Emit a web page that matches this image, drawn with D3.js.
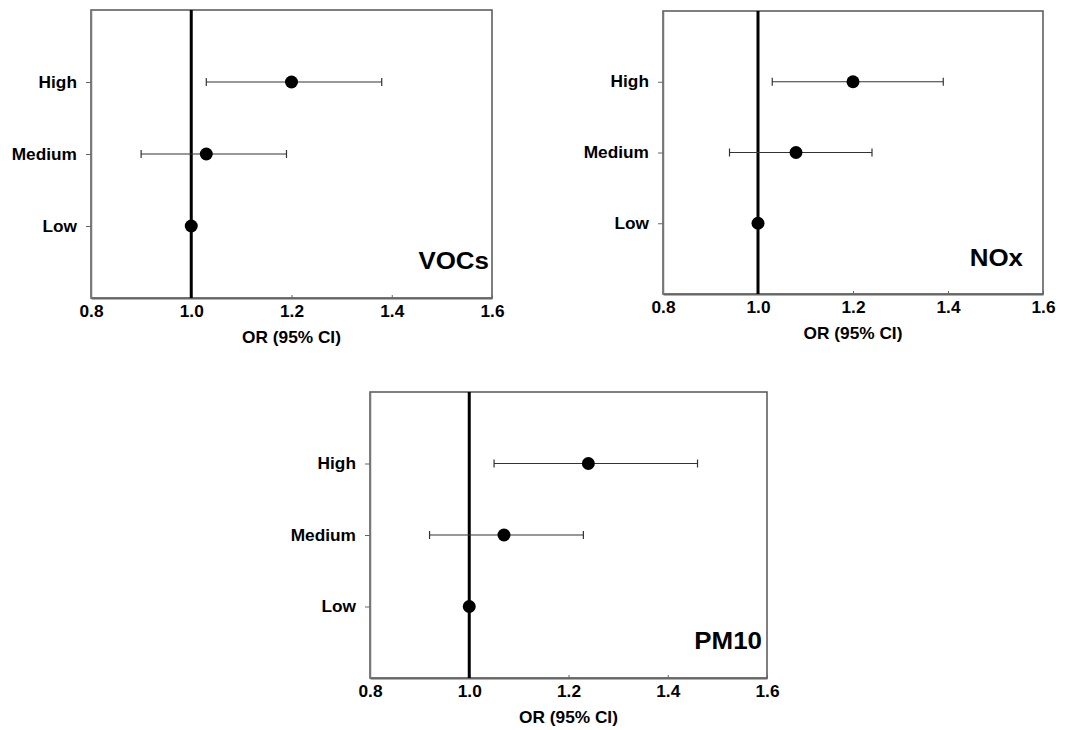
<!DOCTYPE html>
<html>
<head>
<meta charset="utf-8">
<script src="https://cdn.jsdelivr.net/npm/d3@7"></script>
<style>
  body { margin: 0; background: #fff; }
  svg { display: block; }
  text { font-family: "Liberation Sans", Arial, sans-serif; font-weight: bold; fill: #000; }
</style>
</head>
<body>
<svg width="1083" height="730"></svg>
<script>
// Data
var categories = ["Low", "Medium", "High"];
var xTicks = [0.8, 1.0, 1.2, 1.4, 1.6];
var pollutants = ["VOCs", "NOx", "PM10"];

var vocsOR = [1.0, 1.03, 1.2];
var vocsLower = [null, 0.9, 1.03];
var vocsUpper = [null, 1.19, 1.38];

var noxOR = [1.0, 1.08, 1.2];
var noxLower = [null, 0.94, 1.03];
var noxUpper = [null, 1.24, 1.39];

var pm10OR = [1.0, 1.07, 1.24];
var pm10Lower = [null, 0.92, 1.05];
var pm10Upper = [null, 1.23, 1.46];

var seriesOR = [vocsOR, noxOR, pm10OR];
var seriesLower = [vocsLower, noxLower, pm10Lower];
var seriesUpper = [vocsUpper, noxUpper, pm10Upper];

// Where each panel sits on the page
var panelBoxes = [
  { left: 91, right: 492, top: 10, bottom: 298, labelDx: 3, labelDy: 29 },
  { left: 663, right: 1043, top: 11, bottom: 294, labelDx: 20, labelDy: 28 },
  { left: 370, right: 767, top: 392, bottom: 678, labelDx: 5, labelDy: 29 }
];

var stretch = "scale(1.08,1)"; // the original text is a little wide

var svg = d3.select("svg");

pollutants.forEach(function (name, p) {
  var box = panelBoxes[p];
  var w = box.right - box.left;
  var h = box.bottom - box.top;

  var g = svg.append("g")
    .attr("transform", `translate(${box.left},${box.top})`);

  var xScale = d3.scaleLinear().domain([0.8, 1.6]).range([0, w]);
  var yScale = d3.scaleLinear().domain([0, 4]).range([h, 0]);

  var rows = categories.map(function (c, i) {
    return {
      cat: c,
      pos: i + 1,
      or: seriesOR[p][i],
      lo: seriesLower[p][i],
      hi: seriesUpper[p][i]
    };
  });

  //frame around the plot
  g.append("rect")
    .attr("width", w)
    .attr("height", h)
    .attr("fill", "none")
    .attr("stroke", "#555")
    .attr("stroke-width", 1.5);

  //bottom axis with small inside ticks
  var xAxis = d3.axisBottom(xScale)
    .tickValues(xTicks)
    .tickFormat(d3.format(".1f"))
    .tickSizeInner(-3)
    .tickSizeOuter(0)
    .tickPadding(8);

  var xg = g.append("g")
    .attr("transform", `translate(0,${h})`)
    .call(xAxis);
  xg.select(".domain").attr("stroke", "#666").attr("stroke-width", 1.8);
  xg.selectAll(".tick line").attr("stroke", "#666");
  xg.selectAll(".tick text")
    .attr("font-size", 16)
    .attr("transform", stretch);

  //left axis with category names
  var yAxis = d3.axisLeft(yScale)
    .tickValues([1, 2, 3])
    .tickFormat(function (d) { return categories[d - 1]; })
    .tickSizeInner(5)
    .tickSizeOuter(0)
    .tickPadding(8);

  var yg = g.append("g").call(yAxis);
  yg.select(".domain").attr("stroke", "#777").attr("stroke-width", 1.5);
  yg.selectAll(".tick line").attr("stroke", "#666");
  yg.selectAll(".tick text")
    .attr("font-size", 16)
    .attr("transform", stretch);

  //reference line at OR = 1
  g.append("line")
    .attr("x1", xScale(1))
    .attr("x2", xScale(1))
    .attr("y1", 0)
    .attr("y2", h)
    .attr("stroke", "#000")
    .attr("stroke-width", 3);

  var withCI = rows.filter(function (d) { return d.lo !== null; });

  //confidence intervals
  g.selectAll(".ci")
    .data(withCI)
    .join("line")
    .attr("class", "ci")
    .attr("x1", function (d) { return xScale(d.lo); })
    .attr("x2", function (d) { return xScale(d.hi); })
    .attr("y1", function (d) { return yScale(d.pos); })
    .attr("y2", function (d) { return yScale(d.pos); })
    .attr("stroke", "#333")
    .attr("stroke-width", 1.2);

  //caps on both ends
  ["lo", "hi"].forEach(function (end) {
    g.selectAll(".cap-" + end)
      .data(withCI)
      .join("line")
      .attr("class", "cap-" + end)
      .attr("x1", function (d) { return xScale(d[end]); })
      .attr("x2", function (d) { return xScale(d[end]); })
      .attr("y1", function (d) { return yScale(d.pos) - 4; })
      .attr("y2", function (d) { return yScale(d.pos) + 4; })
      .attr("stroke", "#333")
      .attr("stroke-width", 1.2);
  });

  //point estimates
  g.selectAll(".dot")
    .data(rows)
    .join("circle")
    .attr("class", "dot")
    .attr("cx", function (d) { return xScale(d.or); })
    .attr("cy", function (d) { return yScale(d.pos); })
    .attr("r", 6.5)
    .attr("fill", "#000");

  //pollutant name in the lower right corner
  g.append("g")
    .attr("transform", `translate(${w - box.labelDx},${h - box.labelDy})`)
    .append("text")
    .attr("text-anchor", "end")
    .attr("font-size", 24)
    .attr("transform", stretch)
    .text(name);

  //x axis title
  g.append("g")
    .attr("transform", `translate(${w / 2},${h + 45})`)
    .append("text")
    .attr("text-anchor", "middle")
    .attr("font-size", 16)
    .attr("transform", stretch)
    .text("OR (95% CI)");
});
</script>
</body>
</html>
